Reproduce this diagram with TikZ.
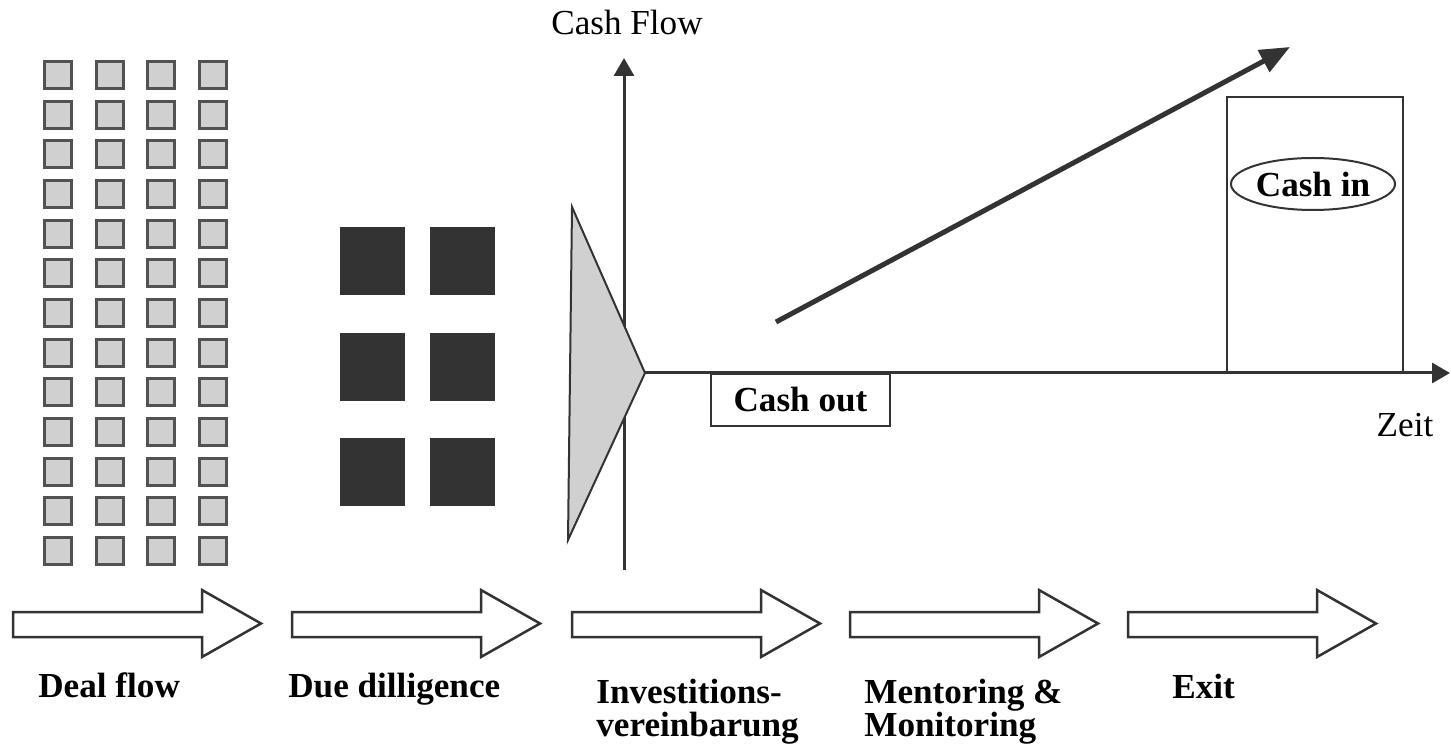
\documentclass[tikz,border=0pt]{standalone}
\usepackage{fontspec}
\setmainfont{Liberation Serif}
\usepackage{tikz}
\usetikzlibrary{arrows.meta}
\usetikzlibrary{calc}
\usetikzlibrary{shapes.geometric}

\definecolor{ink}{HTML}{333333}
\definecolor{dotgray}{HTML}{D0D0D0}

\tikzset{
  smallsq/.style={draw=ink!85, line width=0.6mm, fill=dotgray},
  bigsq/.style={fill=ink},
  axis/.style={draw=ink, line width=0.6mm, -{Triangle[length=3.6mm,width=4mm]}},
  phase/.style={draw=ink, line width=0.5mm, fill=white, line join=miter},
  box/.style={draw=ink, line width=0.4mm},
  lbl/.style={font=\fontsize{20}{18.5}\selectfont\bfseries, align=left, inner sep=0pt},
  plain/.style={font=\fontsize{20}{24}\selectfont, inner sep=0pt},
}

\begin{document}
\begin{tikzpicture}[x=0.2mm, y=-0.2mm]
        \useasboundingbox (0,0) rectangle (1451,749);

        % deal flow: many small projects
        \foreach \i in {0,...,3}
          \foreach \j in {0,...,12}
            \draw[smallsq] ({44.5+51.5*\i},{61.5+39.67*\j}) rectangle ++(27,27);

        % due diligence: few projects left
        \foreach \x in {372,462}
          \foreach \y in {261,367,472}
            \fill[bigsq] (\x-32.5,\y-34) rectangle ++(65,68);

        % axes
        \coordinate (ybot) at (624,570);
        \coordinate (ytop) at (624,58);
        \coordinate (tip) at (645,373);
        \coordinate (xend) at (1450,373);
        \draw[axis] (ybot) -- (ytop);
        \draw[axis] (tip) -- (xend);

        % funnel
        \coordinate (F1) at (572,207);
        \coordinate (F2) at (568,540);
        \filldraw[box, fill=dotgray] (F1) -- (tip) -- (F2) -- cycle;

        \node[plain, anchor=base] (cashflow) at (627,35) {Cash Flow};
        \node[plain, anchor=base] (zeit) at (1405,436) {Zeit};

        % cash out / cash in
        \node[lbl, box, anchor=north west, minimum width=35.8mm, minimum height=10.4mm] (cashout) at (710,373) {Cash out};
        \draw[box] (1227,97) rectangle (1403,373);
        \node[lbl, box, ellipse, minimum width=32.8mm, minimum height=10.4mm] (cashin) at (1313,184) {Cash in};

        % value growth
        \coordinate (G0) at (776,322);
        \coordinate (G1) at (1290,47);
        \draw[ink, line width=1mm, -{Triangle[length=6mm,width=4.8mm]}] (G0) -- (G1);

        % phases
        \foreach \x in {13,292,572,850,1128}
          \draw[phase] (\x,612) -- (\x+189,612) -- (\x+189,590) -- (\x+248,623.5)
            -- (\x+189,657) -- (\x+189,637) -- (\x,637) -- cycle;

        \node[lbl, anchor=base west] (dealflow) at (38,697) {Deal flow};
        \node[lbl, anchor=base west] (duedil) at (288,697) {Due dilligence};
        \node[lbl, anchor=north west] (invest) at (596,679) {Investitions-\\vereinbarung};
        \node[lbl, anchor=north west] (mentor) at (864,679) {Mentoring \&\\Monitoring};
        \node[lbl, anchor=base west] (exit) at (1172,698) {Exit};
\end{tikzpicture}
\end{document}
